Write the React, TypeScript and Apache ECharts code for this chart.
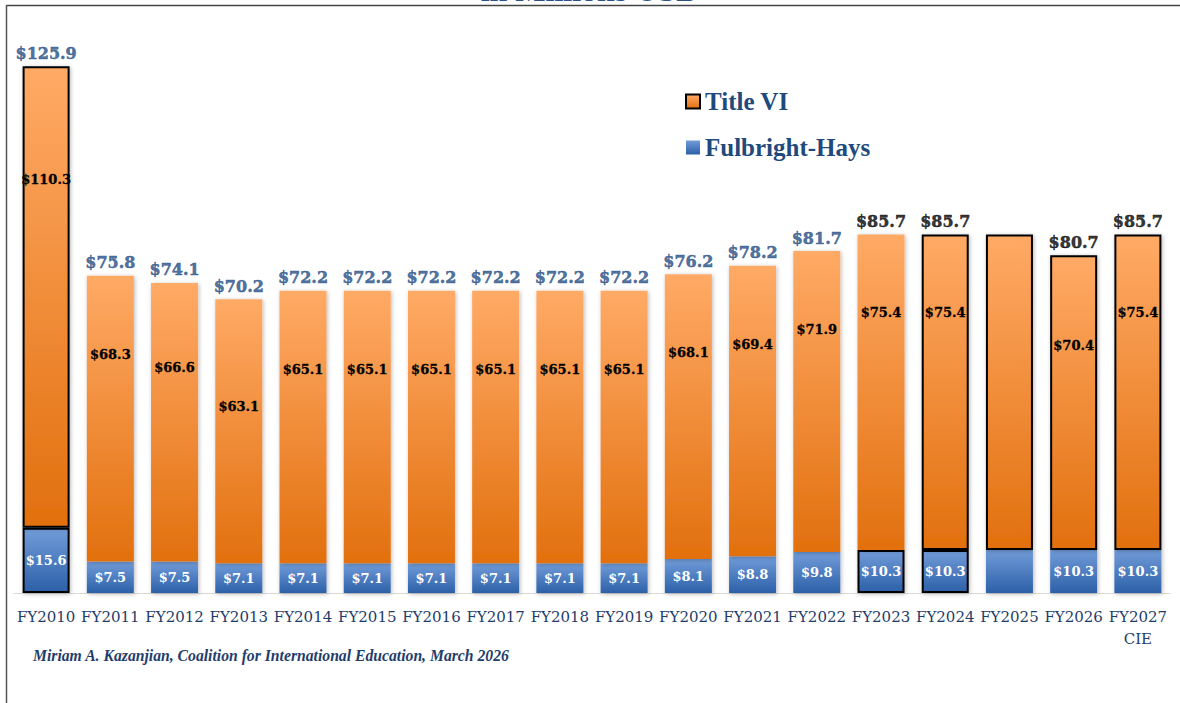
import React, { useEffect, useRef } from "react";
import * as echarts from "echarts";

const categories = [
  "FY2010", "FY2011", "FY2012", "FY2013", "FY2014", "FY2015", "FY2016", "FY2017", "FY2018",
  "FY2019", "FY2020", "FY2021", "FY2022", "FY2023", "FY2024", "FY2025", "FY2026", "FY2027\nCIE",
];
const titleVI = [110.3, 68.3, 66.6, 63.1, 65.1, 65.1, 65.1, 65.1, 65.1, 65.1, 68.1, 69.4, 71.9, 75.4, 75.4, 75.4, 70.4, 75.4];
const fulbrightHays = [15.6, 7.5, 7.5, 7.1, 7.1, 7.1, 7.1, 7.1, 7.1, 7.1, 8.1, 8.8, 9.8, 10.3, 10.3, 10.3, 10.3, 10.3];

// styling helpers (not data)
const unlabeled = new Set(["FY2025"]);
const blackTotals = new Set(["FY2023", "FY2024", "FY2026", "FY2027\nCIE"]);
const titleBordered = new Set(["FY2010", "FY2024", "FY2025", "FY2026", "FY2027\nCIE"]);
const fhBordered = new Set(["FY2010", "FY2023", "FY2024"]);
const innerLabelNudge: Record<string, number> = { FY2010: 35, FY2012: 6, FY2013: 29, FY2026: 12 };

const NAVY = "#1F3D6B";
const LABEL_BLUE = "#244D84";

const orangeGrad = new echarts.graphic.LinearGradient(0, 0, 0, 1, [
  { offset: 0, color: "#FFAA66" },
  { offset: 1, color: "#E2700E" },
]);
const blueGrad = new echarts.graphic.LinearGradient(0, 0, 0, 1, [
  { offset: 0, color: "#729CD9" },
  { offset: 1, color: "#2C60A8" },
]);

export default function App() {
  const ref = useRef<HTMLDivElement>(null);
  useEffect(() => {
    document.body.style.margin = "0";
    if (!ref.current) return;
    const chart = echarts.init(ref.current, undefined, { renderer: "svg" });
    const totals = categories.map((_, i) => Math.round((titleVI[i] + fulbrightHays[i]) * 10) / 10);
    const shadow = { shadowBlur: 4, shadowColor: "rgba(0,0,0,0.28)", shadowOffsetX: 1, shadowOffsetY: 1 };

    const option: any = {
      animation: false,
      backgroundColor: "#ffffff",
      grid: { left: 14, right: 10, top: 49, bottom: 110 },
      legend: {
        orient: "vertical",
        left: 680,
        top: 84,
        itemWidth: 14,
        itemHeight: 14,
        itemGap: 21,
        icon: "rect",
        textStyle: { fontSize: 25, fontWeight: "bold", fontFamily: "Liberation Serif", color: "#1F4A7C" },
        data: [
          { name: "Title VI", itemStyle: { color: orangeGrad, borderColor: "#000", borderWidth: 2 } },
          { name: "Fulbright-Hays", itemStyle: { color: blueGrad, borderWidth: 0 } },
        ],
      },
      xAxis: {
        type: "category",
        data: categories,
        axisLine: { show: true, lineStyle: { color: "#D9D9D9", width: 1 } },
        axisTick: { show: false },
        axisLabel: {
          interval: 0,
          margin: 13,
          fontSize: 15,
          lineHeight: 22,
          fontFamily: "DejaVu Serif",
          color: NAVY,
        },
      },
      yAxis: { type: "value", min: 0, max: 130, show: false, splitLine: { show: false } },
      series: [
        {
          name: "Fulbright-Hays",
          type: "bar",
          stack: "total",
          barWidth: 47,
          itemStyle: { color: blueGrad, ...shadow },
          data: fulbrightHays.map((v, i) => ({
            value: v,
            itemStyle: fhBordered.has(categories[i]) ? { borderColor: "#000", borderWidth: 2 } : { borderWidth: 0 },
            label: { show: !unlabeled.has(categories[i]) },
          })),
          label: {
            show: true,
            position: "inside",
            formatter: (p: any) => `$${p.value.toFixed(1)}`,
            color: "#ffffff",
            fontFamily: "DejaVu Serif",
            fontWeight: "bold",
            fontSize: 13,
          },
        },
        {
          name: "Title VI",
          type: "bar",
          stack: "total",
          barWidth: 47,
          itemStyle: { color: orangeGrad, ...shadow },
          data: titleVI.map((v, i) => ({
            value: v,
            itemStyle: titleBordered.has(categories[i]) ? { borderColor: "#000", borderWidth: 2 } : { borderWidth: 0 },
            label: { show: !unlabeled.has(categories[i]), distance: 72 + (innerLabelNudge[categories[i]] || 0) },
          })),
          label: {
            show: true,
            position: "insideTop",
            distance: 72,
            formatter: (p: any) => `$${p.value.toFixed(1)}`,
            color: "#000000",
            fontFamily: "DejaVu Serif",
            fontWeight: "bold",
            fontSize: 13,
            textBorderColor: "#000000",
            textBorderWidth: 0.3,
          },
        },
        {
          name: "Total",
          type: "scatter",
          symbolSize: 0,
          silent: true,
          data: totals.map((v, i) => {
            const c = blackTotals.has(categories[i]) ? "#000000" : LABEL_BLUE;
            return {
              value: v,
              label: { show: !unlabeled.has(categories[i]), color: c, textBorderColor: c },
            };
          }),
          label: {
            show: true,
            position: "top",
            distance: 5,
            formatter: (p: any) => `$${p.value.toFixed(1)}`,
            fontFamily: "DejaVu Serif",
            fontWeight: "bold",
            fontSize: 16,
            textBorderWidth: 0.5,
          },
        },
      ],
      graphic: [
        {
          type: "text",
          left: "center",
          top: -26,
          style: {
            text: "in Millions USD",
            fontSize: 32,
            fontWeight: "bold",
            fontFamily: "Liberation Serif",
            fill: "#2B5287",
          },
        },
        { type: "line", shape: { x1: 6, y1: 5.5, x2: 1180, y2: 5.5 }, style: { stroke: "#444", lineWidth: 1.5 } },
        { type: "line", shape: { x1: 6.5, y1: 5, x2: 6.5, y2: 703 }, style: { stroke: "#555", lineWidth: 1.5 } },
        {
          type: "text",
          left: 33,
          top: 647,
          style: {
            text: "Miriam A. Kazanjian, Coalition for International Education, March 2026",
            fontSize: 15.7,
            fontWeight: "bold",
            fontStyle: "italic",
            fontFamily: "Liberation Serif",
            fill: NAVY,
          },
        },
      ],
    };
    chart.setOption(option);
    return () => chart.dispose();
  }, []);
  return <div ref={ref} style={{ width: 1180, height: 703 }} />;
}
